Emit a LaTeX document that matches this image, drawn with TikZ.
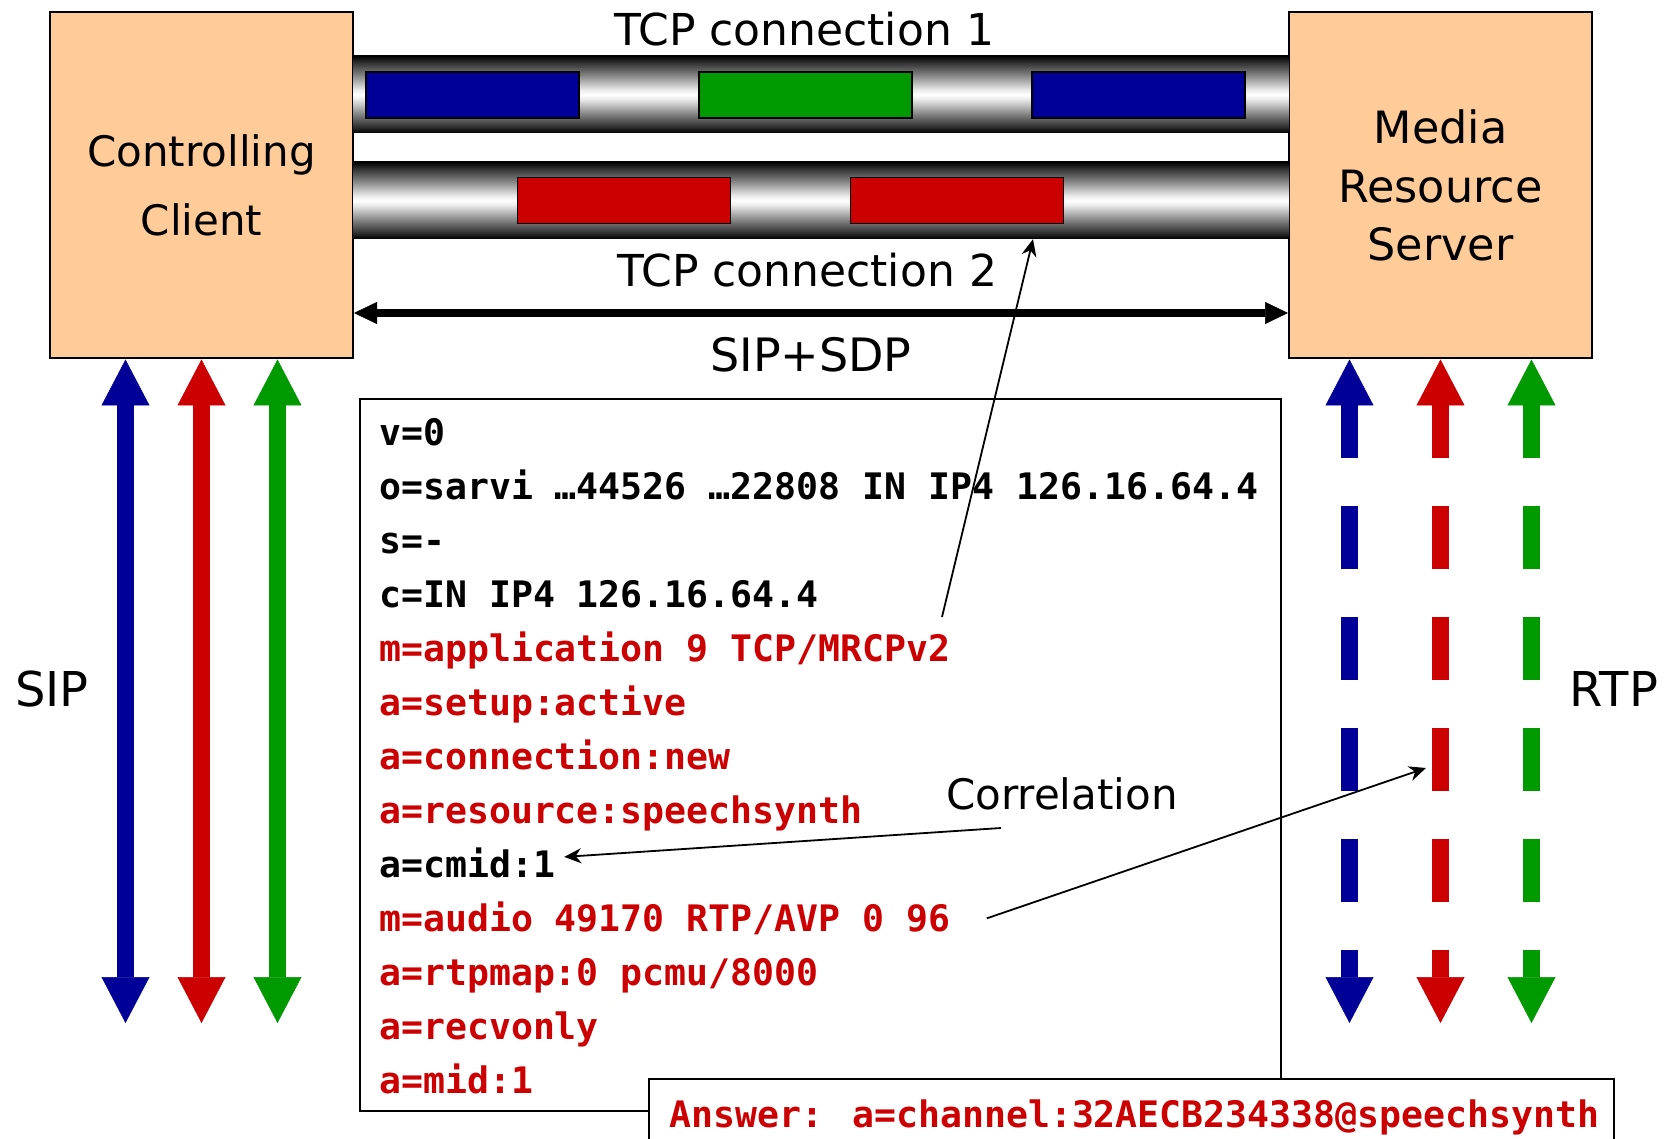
\documentclass[tikz,border=0pt]{standalone}
\usepackage{fontspec}
\setmainfont{DejaVu Sans}
\newfontfamily\sdpfont{DejaVu Sans Mono}
\usetikzlibrary{arrows.meta}
\definecolor{peach}{HTML}{FFCC99}
\definecolor{sdpred}{HTML}{CC0000}
\definecolor{sdpblue}{HTML}{000099}
\definecolor{sdpgreen}{HTML}{009900}
\pgfdeclareverticalshading{pipe}{100bp}{color(0bp)=(black); color(25bp)=(black); color(29bp)=(black!82); color(37bp)=(black!50); color(47bp)=(black!8); color(50bp)=(white); color(53bp)=(black!8); color(63bp)=(black!50); color(71bp)=(black!82); color(75bp)=(black); color(100bp)=(black)}
\begin{document}
\begin{tikzpicture}[x=1pt,y=-1pt,
  box/.style={draw, line width=2pt, fill=peach, minimum width=303pt, minimum height=346pt, inner sep=0pt, align=center, font=\fontsize{42}{60}\selectfont},
  pipebar/.style={shade, shading=pipe, minimum width=936pt, minimum height=77pt, inner sep=0pt},
  packet/.style={draw, line width=1.5pt, minimum width=213pt, minimum height=46pt, inner sep=0pt},
  lbl/.style={font=\fontsize{42}{50}\selectfont, inner sep=0pt},
  sdpline/.style={font=\sdpfont\fontsize{36.5}{44}\selectfont\bfseries, anchor=base west, inner sep=0pt},
  bigtip/.style={line width=17pt, {Triangle[length=46pt,width=48pt,line width=0.5pt]}-{Triangle[length=46pt,width=48pt,line width=0.5pt]}},
  rtparrow/.style={bigtip, dash pattern=on 63pt off 48pt, dash phase=10pt},
  sdparrow/.style={line width=8pt, {Triangle[length=23pt,width=22pt,line width=0.5pt]}-{Triangle[length=23pt,width=22pt,line width=0.5pt]}},
  corr/.style={line width=1.8pt, -{Stealth[length=17pt,width=15pt]}}
]
\useasboundingbox (0,0) rectangle (1674,1139);

% end boxes
\node[box] (cc) at (201.5,185.5) {Controlling\\[9pt]Client};
\node[box, font=\fontsize{44.5}{58.5}\selectfont] (mrs) at (1440.5,185.5) {Media\\Resource\\Server};

% pipes
\node[pipebar] (pipe1) at (821,94.5) {};
\node[pipebar] (pipe2) at (821,200.5) {};
\node[packet, fill=sdpblue] (p1) at (472.5,95) {};
\node[packet, fill=sdpgreen] (p2) at (805.5,95) {};
\node[packet, fill=sdpblue] (p3) at (1138.5,95) {};
\node[packet, fill=sdpred] (p4) at (624,200.5) {};
\node[packet, fill=sdpred] (p5) at (957,200.5) {};

\node[lbl, font=\fontsize{44}{50}\selectfont] (t1) at (804,29) {TCP connection 1};
\node[lbl, font=\fontsize{44}{50}\selectfont] (t2) at (807,270) {TCP connection 2};

% SIP+SDP
\coordinate (ssy) at (821,313);
\draw[sdparrow] (cc.east |- ssy) -- (mrs.west |- ssy);
\node[lbl, font=\fontsize{46}{50}\selectfont] (sipsdp) at (811,355) {SIP+SDP};

% SIP arrows
\coordinate (sb1) at (125.5,1023);
\coordinate (sb2) at (201.5,1023);
\coordinate (sb3) at (277.5,1023);
\draw[bigtip, sdpblue] ([xshift=-76pt]cc.south) -- (sb1);
\draw[bigtip, sdpred] (cc.south) -- (sb2);
\draw[bigtip, sdpgreen] ([xshift=76pt]cc.south) -- (sb3);
\node[lbl, font=\fontsize{48}{50}\selectfont] (sip) at (52,689) {SIP};

% RTP arrows
\coordinate (rb1) at (1349.5,1023);
\coordinate (rb2) at (1440.5,1023);
\coordinate (rb3) at (1531.5,1023);
\draw[rtparrow, sdpblue] ([xshift=-91pt]mrs.south) -- (rb1);
\draw[rtparrow, sdpred] (mrs.south) -- (rb2);
\draw[rtparrow, sdpgreen] ([xshift=91pt]mrs.south) -- (rb3);
\node[lbl, font=\fontsize{48}{50}\selectfont] (rtp) at (1614,689) {RTP};

% SDP box
\node[draw, line width=2pt, minimum width=921pt, minimum height=712pt, inner sep=0pt] (sdpbox) at (820.5,755) {};
\node[sdpline] (l0) at (379,445.5) {v=0};
\node[sdpline] (l1) at (379,499.5) {o=sarvi …44526 …22808 IN IP4 126.16.64.4};
\node[sdpline] (l2) at (379,553.5) {s=-};
\node[sdpline] (l3) at (379,607.5) {c=IN IP4 126.16.64.4};
\node[sdpline, sdpred] (l4) at (379,661.5) {m=application 9 TCP/MRCPv2};
\node[sdpline, sdpred] (l5) at (379,715.5) {a=setup:active};
\node[sdpline, sdpred] (l6) at (379,769.5) {a=connection:new};
\node[sdpline, sdpred] (l7) at (379,823.5) {a=resource:speechsynth};
\node[sdpline] (l8) at (379,877.5) {a=cmid:1};
\node[sdpline, sdpred] (l9) at (379,931.5) {m=audio 49170 RTP/AVP 0 96};
\node[sdpline, sdpred] (l10) at (379,985.5) {a=rtpmap:0 pcmu/8000};
\node[sdpline, sdpred] (l11) at (379,1039.5) {a=recvonly};
\node[sdpline, sdpred] (l12) at (379,1093.5) {a=mid:1};

% answer box
\node[fill=white, minimum width=965pt, minimum height=60pt, inner sep=0pt] (answer) at (1131.5,1109) {};
\draw[line width=2pt] (answer.south west) |- (answer.north east) -- (answer.south east);
\node[sdpline, sdpred] (ans) at (669,1127) {Answer: a=channel:32AECB234338@speechsynth};

% correlation
\node[lbl] (corrlbl) at (1062,794) {Correlation};
\coordinate (appstart) at (942,617);
\draw[corr] (appstart) -- ([xshift=212pt]pipe2.south);
\coordinate (corrstart) at (1001,828);
\draw[corr] (corrstart) -- ([xshift=9pt,yshift=6pt]l8.east);
\coordinate (rtptip) at (1426,768);
\draw[corr] ([xshift=36pt]l9.east) -- (rtptip);
\end{tikzpicture}
\end{document}
